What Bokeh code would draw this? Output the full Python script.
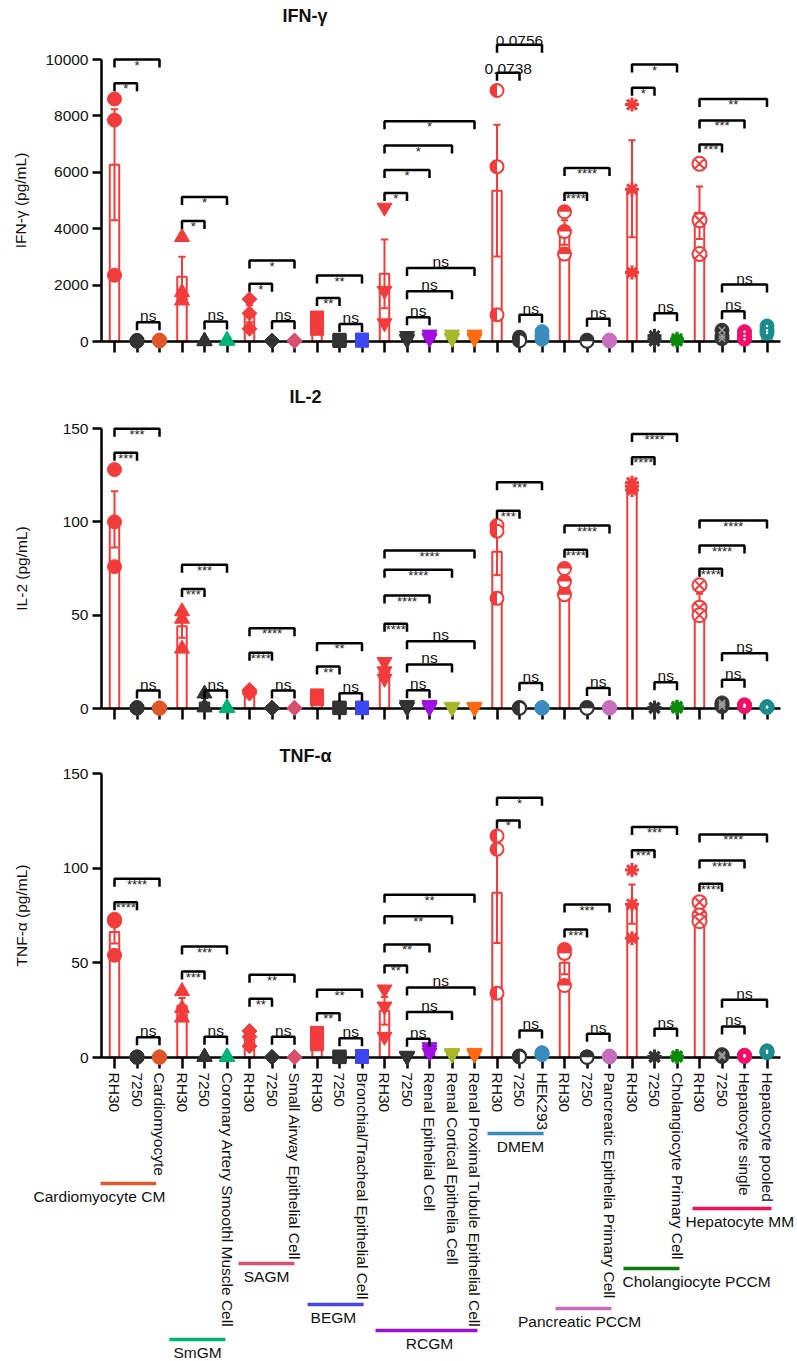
import numpy as np
from math import pi, sqrt
from bokeh.plotting import figure
from bokeh.layouts import column
from bokeh.models import Range1d, FixedTicker
from bokeh.core.properties import value
from bokeh.embed import file_html
from bokeh.resources import INLINE

# ---------------- data ----------------
categories = ["RH30", "7250", "Cardiomyocyte",
              "RH30", "7250", "Coronary Artery Smoothl Muscle Cell",
              "RH30", "7250", "Small Airway Epithelial Cell",
              "RH30", "7250", "Bronchial/Tracheal Epithelial Cell",
              "RH30", "7250", "Renal Epithelial Cell", "Renal Cortical Epithelia Cell",
              "Renal Proximal Tubule Epithelial Cell",
              "RH30", "7250", "HEK293",
              "RH30", "7250", "Pancreatic Epithelia Primary Cell",
              "RH30", "7250", "Cholangiocyte Primary Cell",
              "RH30", "7250", "Hepatocyte single", "Hepatocyte pooled"]

media = ["Cardiomyocyte CM", "SmGM", "SAGM", "BEGM", "RCGM", "DMEM",
         "Pancreatic PCCM", "Cholangiocyte PCCM", "Hepatocyte MM"]
media_first = [0, 3, 6, 9, 12, 17, 20, 23, 26]
media_last = [2, 5, 8, 11, 16, 19, 22, 25, 29]

# replicate values (pg/mL), 3 per category
ifng_pg_ml = [[8600, 7850, 2350], [40, 20, 10], [50, 30, 20],
              [3700, 1750, 1450], [30, 10, 5], [60, 30, 20],
              [1500, 1000, 450], [30, 20, 10], [40, 20, 10],
              [850, 600, 450], [60, 40, 20], [70, 40, 30],
              [4750, 1800, 650], [200, 100, 60], [250, 150, 100], [250, 150, 100], [250, 150, 100],
              [8900, 6200, 950], [150, 80, 30], [350, 200, 80],
              [4600, 3900, 3100], [40, 20, 10], [50, 30, 20],
              [8400, 5400, 2450], [200, 100, 20], [100, 50, 20],
              [6300, 4300, 3100], [400, 200, 100], [350, 200, 80], [550, 400, 300]]

il2_pg_ml = [[128, 100, 76], [0.5, 0.3, 0.2], [0.3, 0.2, 0.1],
             [52, 48, 32], [8, 1, 0.5], [0.5, 0.3, 0.2],
             [10, 9, 8], [0.4, 0.2, 0.1], [0.4, 0.2, 0.1],
             [7, 6, 5], [0.5, 0.3, 0.2], [0.5, 0.3, 0.2],
             [25, 20, 16], [2, 1, 0.5], [2, 1, 0.5], [1, 0.5, 0.3], [1, 0.5, 0.3],
             [98, 95, 59], [0.5, 0.3, 0.2], [0.5, 0.3, 0.2],
             [75, 68, 61], [0.5, 0.3, 0.2], [0.5, 0.3, 0.2],
             [121, 119, 117], [0.5, 0.3, 0.2], [1, 0.5, 0.3],
             [66, 54, 50], [3, 2, 1], [2, 1.5, 1], [1, 0.8, 0.5]]

tnfa_pg_ml = [[73, 72, 54], [0.3, 0.2, 0.1], [0.3, 0.2, 0.1],
              [35, 26, 21], [0.5, 0.3, 0.2], [0.5, 0.3, 0.2],
              [14, 11, 6], [0.3, 0.2, 0.1], [0.3, 0.2, 0.1],
              [13, 10, 7], [0.5, 0.3, 0.2], [0.8, 0.5, 0.3],
              [36, 27, 11], [1, 0.5, 0.3], [5.5, 4, 2.5], [2.5, 2, 1.5], [2.5, 2, 1.5],
              [117, 110, 34], [0.8, 0.5, 0.3], [2.5, 2, 1.5],
              [57, 55, 38], [0.3, 0.2, 0.1], [0.8, 0.5, 0.3],
              [99, 81, 63], [0.5, 0.3, 0.2], [0.8, 0.5, 0.3],
              [82, 75, 72], [1.5, 1, 0.5], [1.2, 0.8, 0.5], [3.5, 3, 2.5]]

ifng_ticks = [0, 2000, 4000, 6000, 8000, 10000]
il2_ticks = [0, 50, 100, 150]
tnfa_ticks = [0, 50, 100, 150]

# significance brackets: (left category, right category, height, label)
ifng_brackets = [(0, 1, 9160, "*"), (0, 2, 10000, "*"), (1, 2, 685, "ns"),
                 (3, 4, 4270, "*"), (3, 5, 5120, "*"), (4, 5, 710, "ns"),
                 (6, 7, 2045, "*"), (6, 8, 2870, "*"), (7, 8, 720, "ns"),
                 (9, 10, 1540, "**"), (9, 11, 2340, "**"), (10, 11, 625, "ns"),
                 (12, 13, 5270, "*"), (12, 14, 6080, "*"), (12, 15, 6950, "*"), (12, 16, 7810, "*"),
                 (13, 14, 860, "ns"), (13, 15, 1785, "ns"), (13, 16, 2610, "ns"),
                 (17, 18, 9530, "0.0738"), (17, 19, 10520, "0.0756"), (18, 19, 945, "ns"),
                 (20, 21, 5270, "****"), (20, 22, 6150, "****"), (21, 22, 805, "ns"),
                 (23, 24, 9000, "*"), (23, 25, 9820, "*"), (24, 25, 1005, "ns"),
                 (26, 27, 6990, "***"), (26, 28, 7840, "***"), (26, 29, 8600, "**"),
                 (27, 28, 1075, "ns"), (27, 29, 2020, "ns")]

il2_brackets = [(0, 1, 137, "***"), (0, 2, 149.8, "***"), (1, 2, 9.6, "ns"),
                (3, 4, 64, "***"), (3, 5, 77, "***"), (4, 5, 9.6, "ns"),
                (6, 7, 29.8, "****"), (6, 8, 43, "****"), (7, 8, 9.6, "ns"),
                (9, 10, 22.5, "**"), (9, 11, 35, "**"), (10, 11, 8.2, "ns"),
                (12, 13, 45.4, "****"), (12, 14, 60.5, "****"), (12, 15, 74.3, "****"), (12, 16, 84.6, "****"),
                (13, 14, 9.8, "ns"), (13, 15, 23.6, "ns"), (13, 16, 36, "ns"),
                (17, 18, 106, "***"), (17, 19, 121.2, "***"), (18, 19, 13.6, "ns"),
                (20, 21, 85, "****"), (20, 22, 98, "****"), (21, 22, 11, "ns"),
                (23, 24, 134.6, "****"), (23, 25, 147, "****"), (24, 25, 14, "ns"),
                (26, 27, 74.8, "****"), (26, 28, 87.3, "****"), (26, 29, 100.7, "****"),
                (27, 28, 15.4, "ns"), (27, 29, 29.6, "ns")]

tnfa_brackets = [(0, 1, 82, "****"), (0, 2, 94.4, "****"), (1, 2, 10.7, "ns"),
                 (3, 4, 45.4, "***"), (3, 5, 58.6, "***"), (4, 5, 11, "ns"),
                 (6, 7, 31, "**"), (6, 8, 43.7, "**"), (7, 8, 11, "ns"),
                 (9, 10, 23.4, "**"), (9, 11, 35.8, "**"), (10, 11, 10.2, "ns"),
                 (12, 13, 48.6, "**"), (12, 14, 59.7, "**"), (12, 15, 74.6, "**"), (12, 16, 86, "**"),
                 (13, 14, 9.9, "ns"), (13, 15, 24, "ns"), (13, 16, 37, "ns"),
                 (17, 18, 125.2, "*"), (17, 19, 137.2, "*"), (18, 19, 14.3, "ns"),
                 (20, 21, 67.6, "***"), (20, 22, 80.8, "***"), (21, 22, 12.5, "ns"),
                 (23, 24, 109.4, "***"), (23, 25, 121.7, "***"), (24, 25, 15.2, "ns"),
                 (26, 27, 91.8, "****"), (26, 28, 104, "****"), (26, 29, 117.8, "****"),
                 (27, 28, 16.4, "ns"), (27, 29, 30.5, "ns")]

# ---------------- style / layout ----------------
FONT = "Liberation Sans"
RED = "#F23B3B"
DARK = "#333333"
TXT = "#111111"
other_colors = {2: "#E0582A", 5: "#00B478", 8: "#D8506E", 11: "#3C46F0", 14: "#A010E0",
                15: "#A8B82A", 16: "#FF6A10", 19: "#3A8CC0", 22: "#C86EBE", 25: "#0A8A0A",
                28: "#F0106A", 29: "#1A8C8C"}
media_color = ["#E05A2B", "#00B478", "#D8506E", "#4646EE", "#9B10D8", "#3A8CC0",
               "#C86EBE", "#0A7A0A", "#F0105A"]
media_marker = ["circle", "triangle", "diamond", "square", "inverted_triangle",
                "half_left", "half_top", "asterisk", "circle_x"]

cat_color = []
for i, c in enumerate(categories):
    if c == "RH30":
        cat_color.append(RED)
    elif c == "7250":
        cat_color.append(DARK)
    else:
        cat_color.append(other_colors[i])
cat_media = [0] * len(categories)
for g, (a, b) in enumerate(zip(media_first, media_last)):
    for i in range(a, b + 1):
        cat_media[i] = g

FIG_W = 797
TOP_BORDER = 26
X_PX = 22.5           # pixels per category
X0_PX = 114           # pixel of the first category
AXIS_PX = 101         # pixel of the y axis
AXIS_END_PX = 780     # pixel where the x axis ends
x_start = -X0_PX / X_PX
x_end = (FIG_W - X0_PX) / X_PX
x_range = Range1d(x_start, x_end)
y_axis_x = (AXIS_PX - X0_PX) / X_PX
x_axis_end = (AXIS_END_PX - X0_PX) / X_PX

# group annotation layout (pixels below the TNF axis, x in category units)
media_line_depth = [126, 282, 206, 247, 273, 76, 251, 211, 151]
media_line_x0 = [-0.62, 2.44, 5.51, 8.58, 11.6, 16.58, 19.6, 22.62, 25.69]
media_line_x1 = [1.85, 4.93, 8.0, 11.07, 16.13, 19.07, 22.09, 25.11, 29.2]
media_text_x = [-0.67, 3.69, 6.76, 9.73, 14.0, 18.04, 20.67, 22.58, 25.38]
media_text_align = ["center"] * 7 + ["left", "left"]

panels = [
    dict(title="IFN-γ", ylabel="IFN-γ (pg/mL)", vals=ifng_pg_ml, br=ifng_brackets, ticks=ifng_ticks,
         fig_top=0, fig_h=381, zero=341, top_tick=59, ylab_standoff=13, title_offset=282),
    dict(title="IL-2", ylabel="IL-2 (pg/mL)", vals=il2_pg_ml, br=il2_brackets, ticks=il2_ticks,
         fig_top=381, fig_h=359, zero=708, top_tick=428, ylab_standoff=30, title_offset=289),
    dict(title="TNF-α", ylabel="TNF-α (pg/mL)", vals=tnfa_pg_ml, br=tnfa_brackets, ticks=tnfa_ticks,
         fig_top=740, fig_h=621, zero=1057, top_tick=773, ylab_standoff=30, title_offset=279),
]


def draw_points(p, vals):
    for i, v in enumerate(vals):
        kind = media_marker[cat_media[i]]
        col = cat_color[i]
        xs = [i] * len(v)
        cat = categories[i]
        kw = dict(level="annotation")
        if kind in ("circle", "triangle", "inverted_triangle", "square"):
            size = {"circle": 14, "triangle": 15, "inverted_triangle": 15, "square": 13}[kind]
            p.scatter(xs, v, marker=kind, size=size, fill_color=col, line_color=col, line_width=1, **kw)
        elif kind == "diamond":
            p.scatter(xs, v, marker="square", angle=pi / 4, size=10.5, fill_color=col,
                      line_color=col, line_width=1, **kw)
        elif kind in ("half_left", "half_top"):
            if cat in ("RH30", "7250"):
                p.scatter(xs, v, marker="circle", size=13, fill_color="white", line_color=col,
                          line_width=2, **kw)
                a0, a1 = (pi / 2, 3 * pi / 2) if kind == "half_left" else (0, pi)
                p.wedge(xs, v, radius=6.5, radius_units="screen", start_angle=a0, end_angle=a1,
                        fill_color=col, line_color=None, **kw)
            else:
                p.scatter(xs, v, marker="circle", size=14, fill_color=col, line_color=col, **kw)
        elif kind == "asterisk":
            p.scatter(xs, v, marker="asterisk", size=14, line_color=col, line_width=3, **kw)
        else:  # circle_x
            if cat == "RH30":
                p.scatter(xs, v, marker="circle_x", size=14, fill_color="white", line_color=col,
                          line_width=2, **kw)
            elif cat == "7250":
                p.scatter(xs, v, marker="circle", size=14, fill_color=col, line_color=col, **kw)
                p.scatter(xs, v, marker="x", size=9, line_color="#9a9a9a", line_width=1.5, **kw)
            else:
                p.scatter(xs, v, marker="circle", size=14, fill_color=col, line_color=col, **kw)
                p.scatter(xs, v, marker="dot", size=10, line_color="white", **kw)


figs = []
for k, pn in enumerate(panels):
    ppu = (pn["zero"] - pn["top_tick"]) / pn["ticks"][-1]
    frame_top = pn["fig_top"] + TOP_BORDER
    fig_bottom = pn["fig_top"] + pn["fig_h"]
    y_end = (pn["zero"] - frame_top) / ppu
    y_start = -(fig_bottom - pn["zero"]) / ppu
    p = figure(width=FIG_W, height=pn["fig_h"], x_range=x_range, y_range=Range1d(y_start, y_end),
               output_backend="svg", toolbar_location=None,
               min_border_left=0, min_border_right=0, min_border_top=TOP_BORDER, min_border_bottom=0)
    p.outline_line_color = None
    p.xgrid.visible = False
    p.ygrid.visible = False
    p.background_fill_color = "white"

    p.title.text = pn["title"]
    p.title.text_font = FONT
    p.title.text_font_size = "18px"
    p.title.text_font_style = "bold"
    p.title.text_color = TXT
    p.title.align = "left"
    p.title.offset = pn["title_offset"]
    p.title.standoff = 2

    # axes
    xa = p.xaxis[0]
    xa.fixed_location = 0
    xa.bounds = (y_axis_x, x_axis_end)
    xa.ticker = FixedTicker(ticks=list(range(len(categories))))
    xa.axis_line_width = 2.5
    xa.axis_line_color = "black"
    xa.major_tick_line_width = 2.5
    xa.major_tick_line_color = "black"
    xa.major_tick_out = 11
    xa.major_tick_in = 0
    xa.minor_tick_line_color = None
    if k == len(panels) - 1:
        xa.major_label_overrides = {i: c for i, c in enumerate(categories)}
        xa.major_label_orientation = "vertical"
        xa.major_label_text_font = FONT
        xa.major_label_text_font_size = "15.5px"
        xa.major_label_text_color = TXT
        xa.major_label_standoff = 4
    else:
        xa.major_label_overrides = {i: "" for i in range(len(categories))}

    ya = p.yaxis[0]
    ya.fixed_location = y_axis_x
    ya.ticker = FixedTicker(ticks=pn["ticks"])
    ya.bounds = (0, pn["ticks"][-1])
    ya.axis_line_width = 2.5
    ya.axis_line_color = "black"
    ya.major_tick_line_width = 2.5
    ya.major_tick_line_color = "black"
    ya.major_tick_out = 9
    ya.major_tick_in = 0
    ya.minor_tick_line_color = None
    ya.major_label_text_font = FONT
    ya.major_label_text_font_size = "15.5px"
    ya.major_label_text_color = TXT
    ya.major_label_standoff = 4
    ya.axis_label = pn["ylabel"]
    ya.axis_label_text_font = FONT
    ya.axis_label_text_font_size = "15.5px"
    ya.axis_label_text_font_style = "normal"
    ya.axis_label_text_color = TXT
    ya.axis_label_standoff = pn["ylab_standoff"]

    vals = pn["vals"]
    idx = list(range(len(categories)))
    means = [float(np.mean(v)) for v in vals]
    sems = [float(np.std(v, ddof=1) / sqrt(len(v))) for v in vals]

    # bars (mean) and error bars (SEM)
    p.vbar(x=idx, top=means, bottom=0, width=0.42, fill_color=None, line_color=cat_color, line_width=2)
    lo = [m - s for m, s in zip(means, sems)]
    hi = [m + s for m, s in zip(means, sems)]
    p.segment(x0=idx, y0=lo, x1=idx, y1=hi, line_color=cat_color, line_width=2)
    p.segment(x0=[i - 0.16 for i in idx], y0=hi, x1=[i + 0.16 for i in idx], y1=hi,
              line_color=cat_color, line_width=2)
    p.segment(x0=[i - 0.16 for i in idx], y0=lo, x1=[i + 0.16 for i in idx], y1=lo,
              line_color=cat_color, line_width=2)

    draw_points(p, vals)

    # brackets with labels (label offsets in pixels converted to data units)
    leg = 8 / ppu
    bxs, bys = [], []
    st_x, st_y, st_t = [], [], []
    ns_x, ns_y, ns_t = [], [], []
    nm_x, nm_y, nm_t = [], [], []
    for (l, r, yb, lab) in pn["br"]:
        bxs.append([l, l, r, r])
        bys.append([yb - leg, yb, yb, yb - leg])
        xm = (l + r) / 2
        if lab.startswith("*"):
            st_x.append(xm); st_y.append(yb - 5.5 / ppu); st_t.append(lab)
        elif lab == "ns":
            ns_x.append(xm); ns_y.append(yb + 6.5 / ppu); ns_t.append(lab)
        else:
            nm_x.append(xm); nm_y.append(yb + 4 / ppu); nm_t.append(lab)
    p.multi_line(xs=bxs, ys=bys, line_color="black", line_width=2.5, level="annotation")
    p.text(x=st_x, y=st_y, text=st_t, text_font=value(FONT), text_font_size="13px",
           text_align="center", text_baseline="alphabetic", text_color="#222222",
           level="annotation")
    p.text(x=ns_x, y=ns_y, text=ns_t, text_font=value(FONT), text_font_size="15.5px",
           text_align="center", text_baseline="alphabetic", text_color=TXT,
           level="annotation")
    if nm_t:
        p.text(x=nm_x, y=nm_y, text=nm_t, text_font=value(FONT), text_font_size="15.5px",
               text_align="center", text_baseline="alphabetic", text_color=TXT,
               level="annotation")

    if k == len(panels) - 1:
        gy = [-d / ppu for d in media_line_depth]
        p.segment(x0=media_line_x0, y0=gy, x1=media_line_x1, y1=gy, line_color=media_color,
                  line_width=3.5)
        ty = [-(d + 13) / ppu for d in media_line_depth]
        for g in range(len(media)):
            p.text(x=[media_text_x[g]], y=[ty[g]], text=[media[g]], text_font=value(FONT),
                   text_font_size="15.5px", text_align=media_text_align[g],
                   text_baseline="middle", text_color=TXT)
    figs.append(p)

layout = column(*figs)
open("out.html", "w").write(file_html(layout, INLINE))
